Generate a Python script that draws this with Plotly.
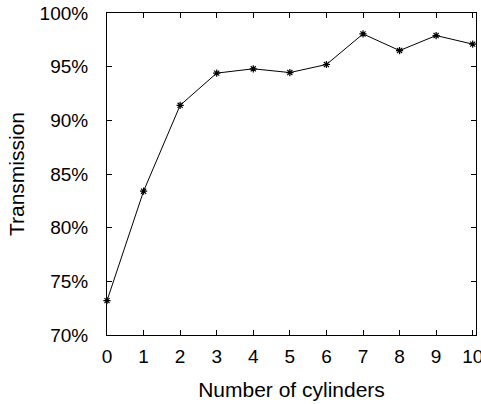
import plotly.graph_objects as go

cylinders = [0, 1, 2, 3, 4, 5, 6, 7, 8, 9, 10]
transmission = [73.2, 83.4, 91.4, 94.4, 94.8, 94.45, 95.2, 98.05, 96.5, 97.9, 97.1]

fam = "Liberation Sans, Arial, sans-serif"
tickfont = dict(family=fam, size=19, color="black")
titlefont = dict(family=fam, size=21, color="black")

fig = go.Figure()
fig.add_trace(go.Scatter(
    x=cylinders, y=transmission, mode="lines+markers",
    line=dict(color="black", width=1),
    marker=dict(symbol="asterisk-open", size=6, color="black", line=dict(color="black", width=1.2)),
    cliponaxis=False, showlegend=False,
))

fig.update_layout(
    width=481, height=404,
    margin=dict(l=106.5, r=5.3, t=13, b=68.7, autoexpand=False),
    paper_bgcolor="white", plot_bgcolor="white",
    font=tickfont,
    xaxis=dict(
        range=[0, 10.09], tickmode="array", tickvals=cylinders,
        ticks="inside", ticklen=5, tickcolor="black", tickwidth=1,
        showline=True, linecolor="black", linewidth=1, mirror="ticks",
        showgrid=False, zeroline=False, automargin=False,
        title=dict(text="Number of cylinders", font=titlefont, standoff=16),
        tickfont=tickfont, ticklabelstandoff=4, ticklabeloverflow="allow",
    ),
    yaxis=dict(
        range=[70, 100], dtick=5, tick0=70, ticksuffix="%",
        ticks="inside", ticklen=5, tickcolor="black", tickwidth=1,
        showline=True, linecolor="black", linewidth=1, mirror="ticks",
        showgrid=False, zeroline=False, automargin=False,
        title=dict(text="Transmission", font=titlefont, standoff=9),
        tickfont=tickfont, ticklabelstandoff=14, ticklabeloverflow="allow",
    ),
)

fig.write_html("out.html")
